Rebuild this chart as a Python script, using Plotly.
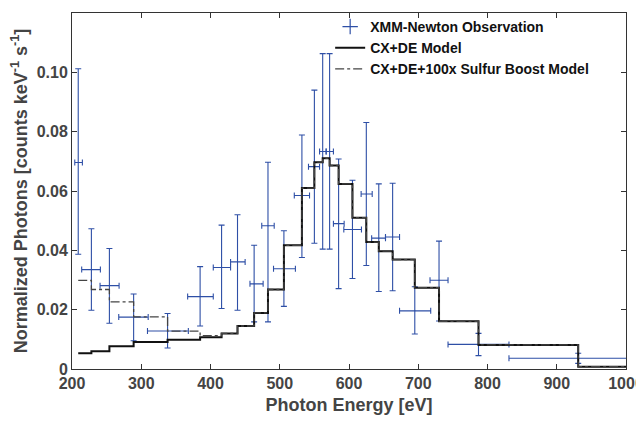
import plotly.graph_objects as go

# Observation (XMM-Newton)
energy = [209, 228, 254, 289, 338, 385, 416, 439, 463, 483, 506, 532, 550, 562, 572, 585, 605, 625, 643, 663, 695, 730, 787, 931]
bin_lo = [204, 214, 240.5, 267.5, 309, 367, 404, 429, 457, 474, 491, 521, 541.5, 557.5, 567, 577.5, 592.5, 617.5, 632.7, 652.7, 673, 717, 743, 831]
bin_hi = [215, 241, 268, 310, 368, 404, 429, 450, 476, 492, 522.6, 543, 557.5, 567, 577.5, 593, 618, 633.5, 652.7, 673, 718, 743, 831, 1031]
counts = [0.0696, 0.0335, 0.0281, 0.0175, 0.0128, 0.0244, 0.0342, 0.0361, 0.0287, 0.0483, 0.0338, 0.0585,
          0.0682, 0.0733, 0.0733, 0.0490, 0.0470, 0.0590, 0.0441, 0.0445, 0.0196, 0.0299, 0.0083, 0.0036]
err_hi = [0.1012, 0.0473, 0.0406, 0.0253, 0.0187, 0.0345, 0.0485, 0.0520, 0.0417, 0.0697, 0.0466, 0.0789,
          0.0940, 0.1063, 0.1063, 0.0708, 0.0636, 0.0831, 0.0624, 0.0626, 0.0277, 0.0431, 0.0120, 0.0053]
err_lo = [0.0387, 0.0198, 0.0154, 0.0095, 0.0071, 0.0145, 0.0204, 0.0198, 0.0159, 0.0159, 0.0211, 0.0376,
          0.0424, 0.0404, 0.0404, 0.0271, 0.0305, 0.0349, 0.0261, 0.0264, 0.0118, 0.0162, 0.0045, 0.0019]

# Models (step values starting at each observation energy)
model_x_end = 1000
cxde = [0.0053, 0.0060, 0.0077, 0.0091, 0.0099, 0.0107, 0.0120, 0.0145, 0.0189, 0.0268, 0.0417, 0.0610,
        0.0697, 0.0710, 0.0686, 0.0624, 0.0510, 0.0428, 0.0397, 0.0369, 0.0274, 0.0161, 0.0081, 0.0008]
sulfur = [0.0299, 0.0268, 0.0226, 0.0176, 0.0128, 0.0112, 0.0120, 0.0145, 0.0189, 0.0268, 0.0417, 0.0610,
          0.0697, 0.0710, 0.0686, 0.0624, 0.0510, 0.0428, 0.0397, 0.0369, 0.0274, 0.0161, 0.0081, 0.0008]

xticks = [200, 300, 400, 500, 600, 700, 800, 900, 1000]
yticks = [0, 0.02, 0.04, 0.06, 0.08, 0.10, 0.12]
yticktext = ["0", "0.02", "0.04", "0.06", "0.08", "0.10", "0.12"]

BLUE = "#2E4FA6"
AX = "#333333"
TXT = "#444444"
FONT = "Liberation Sans"

fig = go.Figure()
# legend entry for the observation (cross symbol like an error bar)
fig.add_trace(go.Scatter(
    x=[None], y=[None], mode="markers", name="XMM-Newton Observation",
    marker=dict(symbol="cross-thin", size=11, color=BLUE, line=dict(color=BLUE, width=1.2)),
))
fig.add_trace(go.Scatter(
    x=energy, y=counts, mode="markers", name="XMM-Newton Observation", showlegend=False,
    marker=dict(size=1, color=BLUE),
    error_y=dict(type="data", symmetric=False,
                 array=[h - c for h, c in zip(err_hi, counts)],
                 arrayminus=[c - l for c, l in zip(counts, err_lo)],
                 color=BLUE, thickness=1.1, width=3),
    error_x=dict(type="data", symmetric=False,
                 array=[h - e for h, e in zip(bin_hi, energy)],
                 arrayminus=[e - l for e, l in zip(energy, bin_lo)],
                 color=BLUE, thickness=1.1, width=3),
))
fig.add_trace(go.Scatter(
    x=energy + [model_x_end], y=cxde + [cxde[-1]], mode="lines", name="CX+DE Model",
    line=dict(shape="hv", color="#111111", width=2),
))
fig.add_trace(go.Scatter(
    x=energy + [model_x_end], y=sulfur + [sulfur[-1]], mode="lines", name="CX+DE+100x Sulfur Boost Model",
    line=dict(shape="hv", color="#444444", width=1.3, dash="dashdot"),
))

# page body adds an 8px offset; margins compensate so the plot area sits at x 72-626, y 12-369
fig.update_layout(
    width=644, height=421,
    margin=dict(l=64, r=26, t=4, b=60),
    paper_bgcolor="white", plot_bgcolor="white",
    font=dict(family=FONT, size=16, color=TXT),
    showlegend=True,
    legend=dict(x=0.466, y=1.003, xanchor="left", yanchor="top", bgcolor="rgba(0,0,0,0)",
                font=dict(family=FONT, size=14, color="#111111", weight="bold"),
                itemwidth=30, tracegroupgap=0),
    xaxis=dict(range=[200, 1000], tickvals=xticks, ticks="inside", ticklen=5, tickcolor=AX,
               showline=True, linecolor=AX, linewidth=1, mirror="ticks", showgrid=False, zeroline=False,
               automargin=False,
               tickfont=dict(family=FONT, size=16, weight="bold", color=TXT),
               title=dict(text="Photon Energy [eV]", standoff=7,
                          font=dict(family=FONT, size=18, weight="bold", color=TXT))),
    yaxis=dict(range=[0, 0.12], tickvals=yticks, ticktext=yticktext, ticks="inside", ticklen=5, tickcolor=AX,
               showline=True, linecolor=AX, linewidth=1, mirror="ticks", showgrid=False, zeroline=False,
               automargin=False,
               tickfont=dict(family=FONT, size=16, weight="bold", color=TXT),
               title=dict(text="Normalized Photons [counts keV<sup>-1</sup> s<sup>-1</sup>]", standoff=4,
                          font=dict(family=FONT, size=18, weight="bold", color=TXT))),
)

fig.write_html("out.html")
